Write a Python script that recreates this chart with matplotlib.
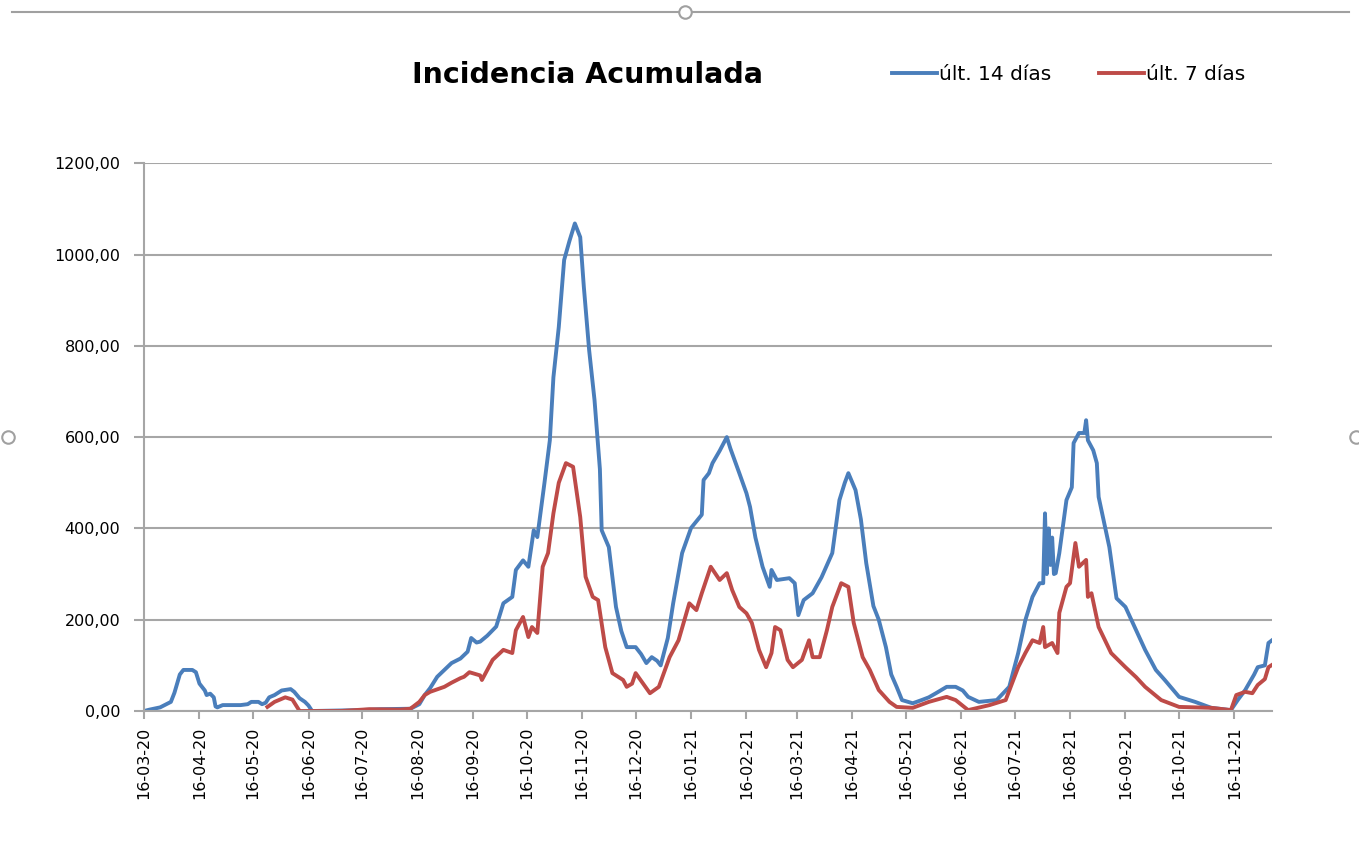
import pandas as pd
import matplotlib
matplotlib.use("Agg")
import matplotlib.pyplot as plt
import matplotlib.dates as mdates
from matplotlib.ticker import FuncFormatter, MultipleLocator
from matplotlib.lines import Line2D

# últ. 14 días
fechas_14 = ['2020-03-16', '2020-03-19', '2020-03-25', '2020-03-31', '2020-04-02', '2020-04-05',
             '2020-04-07', '2020-04-12', '2020-04-14', '2020-04-16', '2020-04-19', '2020-04-20',
             '2020-04-22', '2020-04-24', '2020-04-25', '2020-04-26', '2020-04-29', '2020-05-09',
             '2020-05-13', '2020-05-15', '2020-05-19', '2020-05-21', '2020-05-23', '2020-05-25',
             '2020-05-28', '2020-06-01', '2020-06-06', '2020-06-08', '2020-06-11', '2020-06-14',
             '2020-06-16', '2020-06-18', '2020-07-15', '2020-07-26', '2020-08-12', '2020-08-17',
             '2020-08-20', '2020-08-23', '2020-08-27', '2020-08-31', '2020-09-04', '2020-09-09',
             '2020-09-13', '2020-09-15', '2020-09-18', '2020-09-20', '2020-09-24', '2020-09-29',
             '2020-10-03', '2020-10-08', '2020-10-10', '2020-10-14', '2020-10-17', '2020-10-20',
             '2020-10-22', '2020-10-26', '2020-10-29', '2020-10-31', '2020-11-03', '2020-11-06',
             '2020-11-09', '2020-11-12', '2020-11-15', '2020-11-17', '2020-11-20', '2020-11-23',
             '2020-11-26', '2020-11-27', '2020-12-01', '2020-12-05', '2020-12-08', '2020-12-11',
             '2020-12-16', '2020-12-19', '2020-12-22', '2020-12-25', '2020-12-28', '2020-12-30',
             '2021-01-03', '2021-01-06', '2021-01-11', '2021-01-16', '2021-01-21', '2021-01-22',
             '2021-01-23', '2021-01-26', '2021-01-28', '2021-02-01', '2021-02-05', '2021-02-07',
             '2021-02-10', '2021-02-12', '2021-02-16', '2021-02-18', '2021-02-21', '2021-02-25',
             '2021-03-01', '2021-03-02', '2021-03-05', '2021-03-12', '2021-03-15', '2021-03-17',
             '2021-03-20', '2021-03-25', '2021-03-30', '2021-04-05', '2021-04-09', '2021-04-12',
             '2021-04-14', '2021-04-18', '2021-04-21', '2021-04-24', '2021-04-28', '2021-05-01',
             '2021-05-05', '2021-05-08', '2021-05-11', '2021-05-14', '2021-05-20', '2021-05-25',
             '2021-05-29', '2021-06-02', '2021-06-08', '2021-06-13', '2021-06-17', '2021-06-20',
             '2021-06-26', '2021-07-06', '2021-07-13', '2021-07-18', '2021-07-22', '2021-07-26',
             '2021-07-30', '2021-08-01', '2021-08-02', '2021-08-03', '2021-08-04', '2021-08-05',
             '2021-08-06', '2021-08-07', '2021-08-08', '2021-08-10', '2021-08-14', '2021-08-17',
             '2021-08-18', '2021-08-21', '2021-08-24', '2021-08-25', '2021-08-26', '2021-08-29',
             '2021-08-31', '2021-09-01', '2021-09-07', '2021-09-11', '2021-09-16', '2021-09-22',
             '2021-09-27', '2021-10-03', '2021-10-08', '2021-10-16', '2021-10-25', '2021-11-03',
             '2021-11-14', '2021-11-18', '2021-11-22', '2021-11-27', '2021-11-29', '2021-12-03',
             '2021-12-05', '2021-12-07']
ia_14 = [0, 3, 8, 20, 40, 80,
         90, 90, 85, 60, 45, 35,
         38, 30, 10, 8, 13, 13,
         15, 20, 20, 15, 18, 30,
         35, 45, 48, 42, 28, 20,
         12, 0, 2, 4, 5, 15,
         35, 50, 75, 90, 105, 115,
         130, 160, 150, 152, 165, 185,
         236, 250, 309, 330, 316, 396,
         381, 500, 593, 731, 841, 988,
         1030, 1068, 1038, 930, 790, 681,
         530, 396, 359, 228, 175, 140,
         140, 125, 105, 118, 110, 100,
         160, 236, 346, 401, 425, 430,
         506, 521, 543, 570, 600, 575,
         543, 521, 477, 447, 380, 316,
         272, 309, 287, 291, 280, 210,
         243, 258, 293, 346, 462, 500,
         521, 484, 420, 324, 230, 200,
         140, 80, 53, 24, 17, 24,
         30, 39, 53, 53, 45, 31,
         20, 24, 53, 127, 199, 250,
         280, 280, 433, 300, 400, 320,
         380, 300, 302, 346, 462, 490,
         587, 609, 609, 637, 593, 571,
         543, 469, 359, 247, 228, 177,
         134, 90, 68, 31, 20, 7,
         2, 25, 46, 80, 96, 100,
         149, 155]

# últ. 7 días
fechas_7 = ['2020-05-24', '2020-05-28', '2020-06-03', '2020-06-07', '2020-06-11', '2020-07-04',
            '2020-07-20', '2020-08-06', '2020-08-12', '2020-08-17', '2020-08-20', '2020-08-23',
            '2020-08-31', '2020-09-04', '2020-09-09', '2020-09-11', '2020-09-14', '2020-09-20',
            '2020-09-21', '2020-09-27', '2020-10-03', '2020-10-08', '2020-10-10', '2020-10-14',
            '2020-10-17', '2020-10-19', '2020-10-22', '2020-10-25', '2020-10-28', '2020-10-31',
            '2020-11-03', '2020-11-07', '2020-11-11', '2020-11-15', '2020-11-18', '2020-11-22',
            '2020-11-25', '2020-11-29', '2020-12-03', '2020-12-09', '2020-12-11', '2020-12-14',
            '2020-12-16', '2020-12-20', '2020-12-24', '2020-12-29', '2021-01-04', '2021-01-09',
            '2021-01-15', '2021-01-19', '2021-01-22', '2021-01-27', '2021-02-01', '2021-02-05',
            '2021-02-08', '2021-02-12', '2021-02-16', '2021-02-19', '2021-02-23', '2021-02-27',
            '2021-03-02', '2021-03-04', '2021-03-07', '2021-03-11', '2021-03-14', '2021-03-19',
            '2021-03-23', '2021-03-25', '2021-03-29', '2021-04-02', '2021-04-05', '2021-04-10',
            '2021-04-14', '2021-04-17', '2021-04-22', '2021-04-26', '2021-05-01', '2021-05-07',
            '2021-05-11', '2021-05-20', '2021-05-29', '2021-06-08', '2021-06-13', '2021-06-20',
            '2021-07-02', '2021-07-11', '2021-07-18', '2021-07-22', '2021-07-26', '2021-07-30',
            '2021-08-01', '2021-08-02', '2021-08-06', '2021-08-09', '2021-08-10', '2021-08-14',
            '2021-08-16', '2021-08-19', '2021-08-21', '2021-08-25', '2021-08-26', '2021-08-28',
            '2021-09-01', '2021-09-08', '2021-09-16', '2021-09-22', '2021-09-27', '2021-10-06',
            '2021-10-16', '2021-11-03', '2021-11-14', '2021-11-17', '2021-11-22', '2021-11-26',
            '2021-11-29', '2021-12-03', '2021-12-05', '2021-12-07']
ia_7 = [9, 20, 30, 25, 0, 0,
        4, 3, 5, 20, 35, 42,
        53, 62, 72, 75, 85, 78,
        68, 112, 134, 127, 177, 206,
        162, 184, 171, 316, 346, 433,
        500, 543, 535, 425, 294, 250,
        243, 140, 83, 68, 53, 60,
        83, 61, 39, 53, 118, 155,
        236, 221, 258, 316, 287, 302,
        265, 228, 214, 193, 134, 96,
        127, 184, 177, 112, 96, 112,
        155, 118, 118, 177, 228, 280,
        272, 193, 118, 90, 46, 20,
        9, 7, 20, 31, 24, 2,
        13, 24, 96, 127, 155, 149,
        184, 140, 149, 127, 215, 272,
        280, 368, 316, 331, 250, 258,
        184, 127, 96, 74, 53, 24,
        9, 7, 2, 35, 42, 39,
        57, 70, 96, 101]

azul = '#4a7ebb'
rojo = '#be4b48'
gris = '#a6a6a6'

fig = plt.figure(figsize=(13.59, 8.5), dpi=100)
ax = fig.add_axes([0.106, 0.1635, 0.830, 0.6445])

ax.plot(pd.to_datetime(fechas_14), ia_14, color=azul, lw=2.8, label='últ. 14 días', solid_joinstyle='round')
ax.plot(pd.to_datetime(fechas_7), ia_7, color=rojo, lw=2.8, label='últ. 7 días', solid_joinstyle='round')

ax.set_xlim(pd.Timestamp('2020-03-16'), pd.Timestamp('2021-12-07'))
ax.set_ylim(0, 1200)
ax.yaxis.set_major_locator(MultipleLocator(200))
ax.yaxis.set_major_formatter(FuncFormatter(lambda v, p: f'{v:.2f}'.replace('.', ',')))
ax.xaxis.set_major_locator(mdates.MonthLocator(bymonthday=16))
ax.xaxis.set_major_formatter(mdates.DateFormatter('%d-%m-%y'))
plt.setp(ax.get_xticklabels(), rotation=90)

ax.grid(axis='y', color=gris, lw=1.5)
ax.set_axisbelow(True)
for s in ['top', 'right']:
    ax.spines[s].set_visible(False)
for s in ['left', 'bottom']:
    ax.spines[s].set_color(gris)
    ax.spines[s].set_linewidth(1.5)
ax.tick_params(axis='both', colors=gris, width=1.5, labelcolor='black', labelsize=11.5)
ax.tick_params(axis='y', length=7, pad=10)
ax.tick_params(axis='x', length=6, pad=5)

fig.text(0.432, 0.912, 'Incidencia Acumulada', ha='center', va='center',
         fontsize=20.5, fontweight='bold')
fig.legend(loc='center left', bbox_to_anchor=(0.643, 0.912), ncol=2, frameon=False,
           fontsize=14.5, handlelength=2.25, handletextpad=0.1, columnspacing=2.35)

# marco de selección de Excel
fig.add_artist(Line2D([0.009, 0.993], [0.986, 0.986], color='#a0a0a0', lw=1.5))
for xx, yy in [(0.504, 0.986), (0.006, 0.486), (0.998, 0.486)]:
    fig.add_artist(Line2D([xx], [yy], marker='o', markersize=9, markerfacecolor='white',
                          markeredgecolor='#a0a0a0', markeredgewidth=1.5))

fig.savefig('out.png', dpi=100)
